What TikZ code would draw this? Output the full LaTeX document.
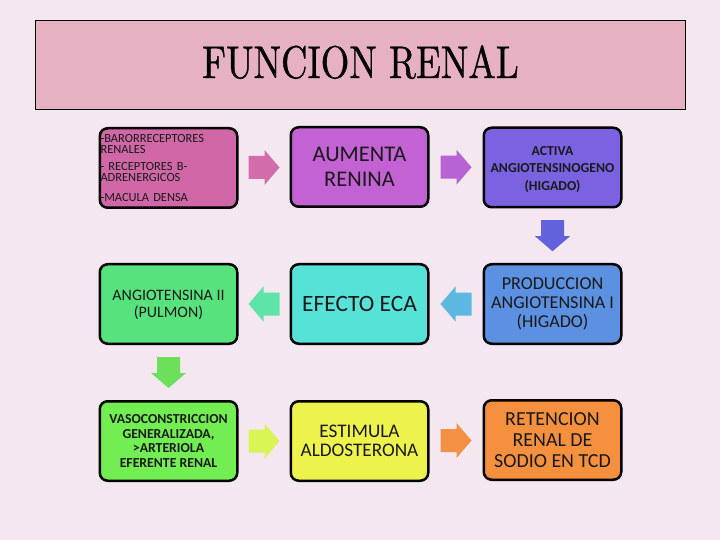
\documentclass[tikz,border=0pt]{standalone}
\usepackage{fontspec}
\setsansfont{Carlito}
\newfontfamily\titlefont{lmroman10-regular.otf}[FakeStretch=0.80, FakeBold=0.7]
\usetikzlibrary{calc}

\definecolor{bgc}{HTML}{F4E7EF}
\definecolor{titlefill}{HTML}{E5B1C3}
\definecolor{cA}{HTML}{D067A6}
\definecolor{cB}{HTML}{C262D3}
\definecolor{cC}{HTML}{7B62E0}
\definecolor{cD}{HTML}{57E27E}
\definecolor{cE}{HTML}{57E2D8}
\definecolor{cF}{HTML}{5C90E0}
\definecolor{cG}{HTML}{72EE52}
\definecolor{cH}{HTML}{EEF24C}
\definecolor{cI}{HTML}{F5903F}
\definecolor{aA}{HTML}{D26CAA}
\definecolor{aB}{HTML}{B863D3}
\definecolor{aC}{HTML}{6262DC}
\definecolor{aD}{HTML}{5BB8E0}
\definecolor{aE}{HTML}{5EE3A8}
\definecolor{aF}{HTML}{6CE05A}
\definecolor{aG}{HTML}{D8F455}
\definecolor{aH}{HTML}{F39043}
\definecolor{txt}{HTML}{1A1A1A}

\tikzset{
  stagebox/.style={draw=black, line width=2.5bp, rounded corners=8bp,
    minimum width=137.5bp, minimum height=79.5bp, align=center,
    inner sep=1bp, text=txt},
  pics/blockarrow/.style={code={
    \fill[#1] (-15.5,-11.5) -- (0.5,-11.5) -- (0.5,-17.5) -- (15.5,0)
      -- (0.5,17.5) -- (0.5,11.5) -- (-15.5,11.5) -- cycle;}},
  fs/.style n args={2}{font=\sffamily\fontsize{#1}{#2}\selectfont},
  fsb/.style n args={2}{font=\sffamily\bfseries\fontsize{#1}{#2}\selectfont}
}

\begin{document}
\begin{tikzpicture}[x=1bp,y=-1bp]
\fill[bgc] (0,0) rectangle (720,540);
\useasboundingbox (0,0) rectangle (720,540);

% title
\node[draw=black, line width=1bp, fill=titlefill, minimum width=649bp,
  minimum height=89bp, inner sep=0pt] (title) at (360.5,65.5) {};
\node[anchor=base, inner sep=0pt, font=\titlefont\fontsize{46}{46}\selectfont,
  text=black] (titletext) at (360.5,78) {FUNCION RENAL};

% boxes
\node[stagebox, fill=cA, align=left, text width=136bp, inner xsep=0.5bp,
  fs={12.5}{11}] (b1) at (168.5,168)
  {-BARORRECEPTORES\\RENALES\\[6bp]- RECEPTORES B-\\ADRENERGICOS\\[9bp]-MACULA DENSA};
\node[stagebox, fill=cB, fs={22.5}{25}] (b2) at (359.5,167) {AUMENTA\\RENINA};
\node[stagebox, fill=cC, fsb={13.8}{18}] (b3) at (552.5,167.5)
  {\rule{0pt}{13bp}ACTIVA\\ANGIOTENSINOGENO\\(HIGADO)};

\node[stagebox, fill=cD, fs={16}{17}] (b4) at (168.5,304) {\rule{0pt}{13bp}ANGIOTENSINA II\\(PULMON)};
\node[stagebox, fill=cE, fs={23.5}{26}] (b5) at (359.5,304) {EFECTO ECA};
\node[stagebox, fill=cF, fs={18.2}{19}] (b6) at (552.5,304)
  {PRODUCCION\\ANGIOTENSINA I\\(HIGADO)};

\node[stagebox, fill=cG, fsb={13.8}{14.4}] (b7) at (168.5,441)
  {VASOCONSTRICCION\\GENERALIZADA,\\>ARTERIOLA\\EFERENTE RENAL};
\node[stagebox, fill=cH, fs={19.3}{18.8}] (b8) at (359.5,441) {ESTIMULA\\ALDOSTERONA};
\node[stagebox, fill=cI, fs={20}{21}] (b9) at (552.5,440)
  {RETENCION\\RENAL DE\\SODIO EN TCD};

% block arrows
\pic (a12) at ($(b1.east)!0.5!(b2.west)$) {blockarrow=aA};
\pic (a23) at ($(b2.east)!0.5!(b3.west)$) {blockarrow=aB};
\pic[rotate=-90] (a36) at ($(b3.south)!0.5!(b6.north)$) {blockarrow=aC};
\pic[rotate=180] (a65) at ($(b6.west)!0.5!(b5.east)$) {blockarrow=aD};
\pic[rotate=180] (a54) at ($(b5.west)!0.5!(b4.east)$) {blockarrow=aE};
\pic[rotate=-90] (a47) at ($(b4.south)!0.5!(b7.north)$) {blockarrow=aF};
\pic (a78) at ($(b7.east)!0.5!(b8.west)$) {blockarrow=aG};
\pic (a89) at ($(b8.east)!0.5!(b9.west)$) {blockarrow=aH};
\end{tikzpicture}
\end{document}
